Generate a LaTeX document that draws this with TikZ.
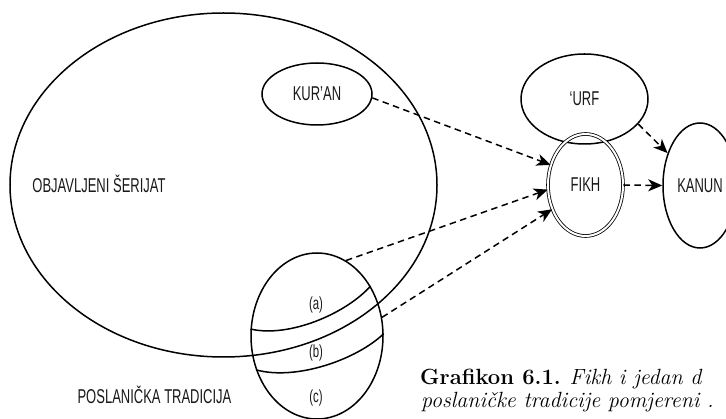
\documentclass[tikz,border=0pt]{standalone}
\usepackage{fontspec}
\usetikzlibrary{arrows.meta,shapes.geometric}
\newfontfamily\labfont[FakeStretch=0.65]{Liberation Sans}

\begin{document}
\begin{tikzpicture}[x=1pt,y=-1pt,
  zone/.style={draw,ellipse,line width=1.5pt,inner sep=0pt},
  lab/.style={font=\labfont\fontsize{20}{23}\selectfont,text=black!90},
  part/.style={font=\labfont\fontsize{17.5}{20}\selectfont,text=black!90},
  dep/.style={-{Stealth[length=14pt,width=12pt,inset=4pt]},line width=1.5pt,dash pattern=on 6.5pt off 4.5pt},
]
\useasboundingbox (0,0) rectangle (726,419);
\clip (0,0) rectangle (726,419);

\node[zone,minimum width=427pt,minimum height=344pt] (serijat) at (223.5,185) {};
\node[zone,minimum width=132pt,minimum height=166pt] (tradicija) at (317,336) {};
\node[zone,lab,minimum width=110pt,minimum height=62pt] (kuran) at (317,94) {KUR’AN};
\node[zone,lab,minimum width=127pt,minimum height=90pt] (urf) at (584.5,99) {‘URF};
\node[zone,lab,line width=0.8pt,double,double distance=2pt,minimum width=75pt,minimum height=102pt] (fikh) at (585.5,185) {FIKH};
\node[zone,lab,minimum width=74pt,minimum height=125pt] (kanun) at (700,185.5) {KANUN};

\node[lab] (serijatlab) at (99,184) {OBJAVLJENI ŠERIJAT};
\node[lab] (tradlab) at (154.5,395) {POSLANIČKA TRADICIJA};

\draw[line width=1.5pt] (tradicija.174) .. controls +(38,9) and +(-25,28) .. (tradicija.43);
\draw[line width=1.5pt] (tradicija.209) .. controls +(40,11) and +(-27,26) .. (tradicija.2);
\node[part] (pa) at (316,305) {(a)};
\node[part] (pb) at (316,353) {(b)};
\node[part] (pc) at (316,398) {(c)};

\draw[dep] (kuran.-4) -- (fikh.150);
\draw[dep] (tradicija.69) -- (fikh.187);
\draw[dep] (tradicija.16) -- (fikh.216);
\draw[dep] (fikh.east) -- (kanun.west);
\draw[dep] (urf.-25) -- (kanun.135);

\node[anchor=base west,font=\fontsize{22}{26}\selectfont,inner sep=0pt] (grafikon) at (420,385) {\textbf{Grafikon 6.1.} \textit{Fikh i jedan d}};
\node[anchor=base west,font=\fontsize{22}{26}\selectfont,inner sep=0pt] (grafikonb) at (421,408) {\textit{poslaničke tradicije pomjereni .}};
\end{tikzpicture}
\end{document}
